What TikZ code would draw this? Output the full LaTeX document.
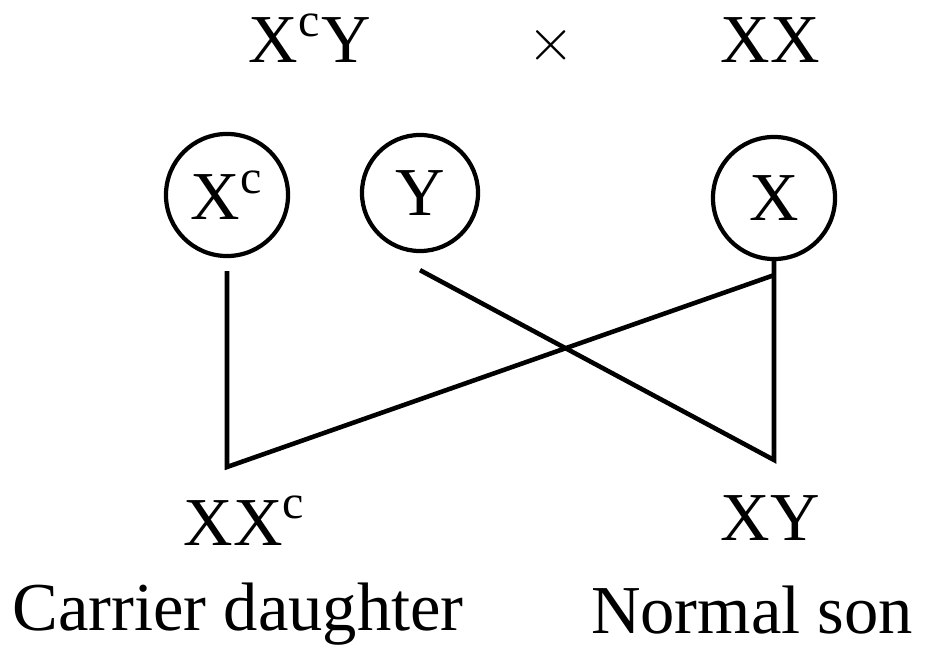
\documentclass[tikz,border=0pt]{standalone}
\usepackage{fontspec}
\setmainfont{Liberation Serif}
\usepackage{tikz}
\usetikzlibrary{positioning}

\begin{document}
\begin{tikzpicture}[
  x=0.01cm, y=-0.01cm,
  lbl/.style   = {inner sep=0pt, anchor=base, font=\fontsize{19.5}{23}\selectfont},
  gamete/.style = {circle, draw, line width=1.2pt, minimum size=1.22cm, inner sep=0pt,
                   font=\fontsize{19.5}{23}\selectfont},
  wire/.style  = {line width=1.3pt, line join=miter},
]
\useasboundingbox (0,0) rectangle (937,652);

%% --- Parents ---
\node[lbl] (pmale)   at (310,63) {X\textsuperscript{c}Y};
\node[lbl] (cross)   at (551,61) {\fontsize{19}{22}\selectfont$\times$};
\node[lbl] (pfemale) at (770,63) {XX};

%% --- Gametes ---
\node[gamete] (gxc) at (227,195) {X\textsuperscript{c}};
\node[gamete, minimum size=1.16cm] (gy) at (420,193) {Y};
\node[gamete] (gx)  at (774,198) {X};

%% --- Offspring ---
\coordinate (dau) at (227,467);
\coordinate (son) at (774,460);
\coordinate (xjoin) at ([yshift=-0.14cm]gx.south);

\node[lbl] (kdau) at (245,545) {XX\textsuperscript{c}};
\node[lbl] (kson) at (770,540) {XY};
\node[lbl] (ldau) at (238,630) {Carrier daughter};
\node[lbl] (lson) at (752,633) {Normal son};

%% --- Lines ---
\draw[wire] ([yshift=-0.13cm]gxc.south) -- (dau) -- (xjoin);
\draw[wire] ([yshift=-0.17cm]gy.south) -- (son) -- (gx.south);

\end{tikzpicture}
\end{document}
